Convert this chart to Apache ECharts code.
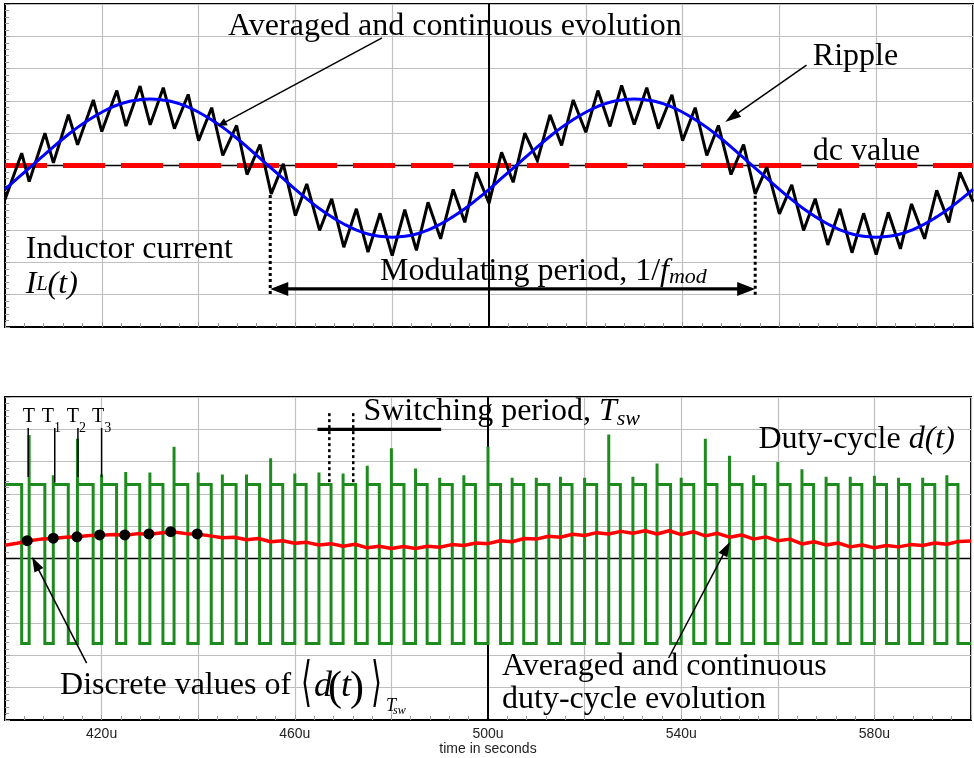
<!DOCTYPE html>
<html><head><meta charset="utf-8">
<script src="https://cdn.jsdelivr.net/npm/echarts@6/dist/echarts.min.js"></script>
<style>html,body{margin:0;padding:0;background:#fff}#c{width:974px;height:758px}</style>
</head><body><div id="c"></div>
<script>
const SERIF = '"Liberation Serif", "Times New Roman", serif';
const SANS = '"Liberation Sans", Arial, sans-serif';
const BRACKET = '"DejaVu Serif", "DejaVu Sans", serif';

// ---- x axis (time, microseconds) ----
const xTickLabels = ['420u', '460u', '500u', '540u', '580u'];
const periodEnd = 600;

// ---- switching instants (rising edges of the PWM) ----
const switchOn = [400,405,410,415,420,425,430,435,440,445,450,455,460,465,470,475,480,485,490,495,
                  500,505,510,515,520,525,530,535,540,545,550,555,560,565,570,575,580,585,590,595];
const dutyRatio = [0.69,0.65,0.62,0.65,0.62,0.58,0.54,0.57,0.54,0.57,0.54,0.50,0.47,
                   0.50,0.52,0.50,0.52,0.48,0.52,0.48,0.52,0.48,0.52,0.48,0.50,0.48,
                   0.52,0.56,0.52,0.48,0.52,0.48,0.51,0.48,0.50,0.48,0.50,0.46,0.50,0.46];
const spikeTop = [null,3.82,2.58,3.71,2.60,2.68,2.66,3.46,2.66,2.60,2.60,3.10,2.63,2.66,
                  2.63,2.87,3.41,2.79,2.50,2.58,3.46,2.50,2.50,2.53,2.50,3.84,2.53,
                  2.94,2.50,3.71,3.18,2.58,2.99,2.76,2.53,2.53,2.56,2.50,2.50,2.58];
const pwmHigh = 2.29, pwmLow = -2.63;

// ---- inductor current ripple vertices ----
const rippleTrough = [-1.05,-0.50,0.08,0.64,1.05,1.22,1.26,1.14,0.77,0.31,-0.28,-0.88,-1.55,-2.01,-2.53,-2.68,-2.79,-2.63,-2.27,-1.76,
                      -1.17,-0.52,0.15,0.62,1.03,1.21,1.27,1.14,0.77,0.31,-0.28,-0.88,-1.50,-2.01,-2.46,-2.70,-2.76,-2.58,-2.27,-1.76,-1.12];
const ripplePeak = [0.38,1.00,1.57,2.03,2.32,2.46,2.41,2.20,1.79,1.24,0.65,0.05,-0.57,-1.03,-1.34,-1.48,-1.37,-1.14,-0.74,-0.21,
                    0.41,1.00,1.57,2.03,2.32,2.48,2.41,2.19,1.79,1.24,0.65,-0.05,-0.60,-1.03,-1.34,-1.48,-1.45,-1.19,-0.77,-0.21];

// ---- averaged curves, sampled every 2.5u ----
const sampleTimes = [400,402.5,405,407.5,410,412.5,415,417.5,420,422.5,425,427.5,430,432.5,435,437.5,440,442.5,445,447.5,
  450,452.5,455,457.5,460,462.5,465,467.5,470,472.5,475,477.5,480,482.5,485,487.5,490,492.5,495,497.5,
  500,502.5,505,507.5,510,512.5,515,517.5,520,522.5,525,527.5,530,532.5,535,537.5,540,542.5,545,547.5,
  550,552.5,555,557.5,560,562.5,565,567.5,570,572.5,575,577.5,580,582.5,585,587.5,590,592.5,595,597.5,600];
const currentAvg = [-0.74,-0.41,-0.08,0.25,0.58,0.89,1.18,1.43,1.65,1.83,1.96,2.03,2.06,2.03,1.96,1.83,1.65,1.43,1.18,0.89,
  0.58,0.25,-0.08,-0.41,-0.74,-1.05,-1.34,-1.59,-1.81,-1.99,-2.12,-2.19,-2.22,-2.19,-2.12,-1.99,-1.81,-1.59,-1.34,-1.05,
  -0.74,-0.41,-0.08,0.25,0.58,0.89,1.18,1.43,1.65,1.83,1.96,2.03,2.06,2.03,1.96,1.83,1.65,1.43,1.18,0.89,
  0.58,0.25,-0.08,-0.41,-0.74,-1.05,-1.34,-1.59,-1.81,-1.99,-2.12,-2.19,-2.22,-2.19,-2.12,-1.99,-1.81,-1.59,-1.34,-1.05,-0.74];
const dutyAvg = [0.41,0.47,0.55,0.60,0.62,0.66,0.67,0.71,0.72,0.74,0.72,0.77,0.75,0.80,0.82,0.77,0.75,0.70,0.64,0.66,
  0.58,0.62,0.52,0.55,0.47,0.50,0.42,0.46,0.38,0.44,0.33,0.38,0.31,0.37,0.31,0.38,0.35,0.43,0.40,0.48,
  0.46,0.55,0.52,0.62,0.60,0.69,0.66,0.75,0.71,0.80,0.76,0.84,0.78,0.86,0.76,0.86,0.74,0.83,0.70,0.78,
  0.66,0.73,0.60,0.67,0.55,0.60,0.45,0.52,0.42,0.48,0.36,0.42,0.33,0.40,0.36,0.43,0.40,0.48,0.44,0.53,0.54];

// ---- discrete averaged duty values ----
const discreteT = [404.6,410.0,414.9,419.6,424.8,429.8,434.3,439.8];
const discreteV = [0.55,0.63,0.67,0.73,0.73,0.76,0.83,0.76];

// ---- dc value / reference axes ----
const dcTimes = [400, 600];
const dcLevel = [0, 0];
const centerT = 500, centerV = 0;

// ---------- build series data ----------
const rippleData = [], pwmData = [];
for (let k = 0; k < switchOn.length; k++) {
  const r = switchOn[k];
  const next = k + 1 < switchOn.length ? switchOn[k + 1] : periodEnd;
  const f = r + dutyRatio[k] * (next - r);
  rippleData.push([r, rippleTrough[k]], [f, ripplePeak[k]]);
  if (spikeTop[k] == null) pwmData.push([r, pwmHigh]);
  else pwmData.push([r, pwmLow], [r, spikeTop[k]], [r, pwmHigh]);
  pwmData.push([f, pwmHigh], [f, pwmLow]);
}
rippleData.push([periodEnd, rippleTrough[switchOn.length]]);
pwmData.push([periodEnd, pwmLow]);
const zip = (a, b) => a.map((v, i) => [v, b[i]]);

const chart = echarts.init(document.getElementById('c'), null, {renderer: 'canvas'});
const gridStyle = {show: true, borderColor: '#000', borderWidth: 2, left: 5, right: 1, height: 323};
const gridLine = {show: true, lineStyle: {color: '#bfbfbf', width: 1.2}};
function xAx(i) {
  return {
    type: 'value', gridIndex: i, min: 400, max: 600, interval: 20,
    axisLine: {show: true, onZero: false, lineStyle: {color: '#000', width: 2}},
    axisTick: {show: true, inside: true, length: 5, lineStyle: {color: '#999'}},
    minorTick: {show: true, splitNumber: 5, length: 4, lineStyle: {color: '#999'}},
    splitLine: gridLine,
    axisLabel: i === 1 ? {
      show: true, margin: 7, color: '#222', fontSize: 14, fontFamily: SANS,
      formatter: v => (xTickLabels.indexOf(v + 'u') >= 0 ? v + 'u' : '')
    } : {show: false},
    name: i === 1 ? 'time in seconds' : '', nameLocation: 'middle', nameGap: 22,
    nameTextStyle: {color: '#222', fontSize: 14, fontFamily: SANS}
  };
}
function yAx(i) {
  return {
    type: 'value', gridIndex: i, min: -5, max: 5, interval: 1,
    axisLine: {show: true, onZero: false, lineStyle: {color: '#000', width: 2}},
    axisTick: {show: true, inside: true, length: 5, lineStyle: {color: '#999'}},
    minorTick: {show: true, splitNumber: 5, length: 4, lineStyle: {color: '#999'}},
    splitLine: gridLine, axisLabel: {show: false}
  };
}
function refLines(i) {
  return [
    {type: 'line', xAxisIndex: i, yAxisIndex: i, data: [[400, centerV], [600, centerV]], symbol: 'none', silent: true, z: 1,
     lineStyle: {color: '#000', width: 1.5}},
    {type: 'line', xAxisIndex: i, yAxisIndex: i, data: [[centerT, -5], [centerT, 5]], symbol: 'none', silent: true, z: 1,
     lineStyle: {color: '#000', width: 2}}
  ];
}
chart.setOption({
  animation: false,
  backgroundColor: '#fff',
  grid: [Object.assign({top: 4}, gridStyle), Object.assign({top: 397}, gridStyle)],
  xAxis: [xAx(0), xAx(1)],
  yAxis: [yAx(0), yAx(1)],
  series: [
    ...refLines(0), ...refLines(1),
    {name: 'dc value', type: 'line', xAxisIndex: 0, yAxisIndex: 0, data: zip(dcTimes, dcLevel), symbol: 'none', z: 2,
     lineStyle: {color: '#ff0000', width: 5, type: [42, 16]}},
    {name: 'Ripple', type: 'line', xAxisIndex: 0, yAxisIndex: 0, data: rippleData, symbol: 'none', z: 3,
     lineStyle: {color: '#000', width: 3, join: 'miter', miterLimit: 3}},
    {name: 'Averaged', type: 'line', xAxisIndex: 0, yAxisIndex: 0, data: zip(sampleTimes, currentAvg), symbol: 'none', smooth: true, z: 4,
     lineStyle: {color: '#0000ff', width: 3}},
    {name: 'Duty-cycle', type: 'line', xAxisIndex: 1, yAxisIndex: 1, data: pwmData, symbol: 'none', z: 3,
     lineStyle: {color: '#1e8b1e', width: 3, join: 'miter', miterLimit: 2}},
    {name: 'Averaged duty', type: 'line', xAxisIndex: 1, yAxisIndex: 1, data: zip(sampleTimes, dutyAvg), symbol: 'none', z: 4,
     lineStyle: {color: '#ff0000', width: 3.5}},
    {name: 'Discrete', type: 'scatter', xAxisIndex: 1, yAxisIndex: 1, data: zip(discreteT, discreteV), symbolSize: 11, z: 5,
     itemStyle: {color: '#000', opacity: 1}}
  ]
});

// ---------- annotations (anchored in data coordinates: left baseline) ----------
const notes = [
  {g: 0, t: 446.1, v: 4.04, parts: [{s: 'Averaged and continuous evolution'}]},
  {g: 0, t: 566.9, v: 3.11, parts: [{s: 'Ripple'}]},
  {g: 0, t: 566.9, v: 0.17, parts: [{s: 'dc value'}]},
  {g: 0, t: 404.3, v: -2.86, parts: [{s: 'Inductor current'}]},
  {g: 0, t: 404.3, v: -3.95, parts: [{s: 'I', it: 1}, {s: 'L', it: 1, size: 20, dy: -3}, {s: '(t)', it: 1}]},
  {g: 0, t: 477.5, v: -3.54, parts: [{s: 'Modulating period, 1/'}, {s: 'f', it: 1}, {s: 'mod', it: 1, size: 22, dy: 3}]},
  {g: 1, t: 403.7, v: 4.235, parts: [{s: 'T', size: 20}]},
  {g: 1, t: 407.6, v: 4.235, parts: [{s: 'T', size: 20}, {s: '1', size: 14, dy: 10}]},
  {g: 1, t: 412.8, v: 4.235, parts: [{s: 'T', size: 20}, {s: '2', size: 14, dy: 10}]},
  {g: 1, t: 418.0, v: 4.235, parts: [{s: 'T', size: 20}, {s: '3', size: 14, dy: 10}]},
  {g: 1, t: 474.2, v: 4.29, parts: [{s: 'Switching period, '}, {s: 'T', it: 1}, {s: 'sw', it: 1, size: 22, dy: 5}]},
  {g: 1, t: 556.0, v: 3.41, parts: [{s: 'Duty-cycle '}, {s: 'd(t)', it: 1}]},
  {g: 1, t: 411.4, v: -4.18, parts: [
    {s: 'Discrete values of '},
    {s: '\u27E8', fam: BRACKET, size: 40, dx: 241, dy: 3, sx: 0.7, sy: 1.35},
    {s: 'd', it: 1, size: 36, dx: 254, dy: 2},
    {s: '(', size: 42, dx: 268, dy: 6},
    {s: 't', it: 1, size: 36, dx: 281, dy: 2},
    {s: ')', size: 42, dx: 290, dy: 6},
    {s: '\u27E9', fam: BRACKET, size: 40, dx: 311, dy: 3, sx: 0.7, sy: 1.35},
    {s: 'T', it: 1, size: 18, dx: 326, dy: 17},
    {s: 'sw', it: 1, size: 12, dx: 333, dy: 20}]},
  {g: 1, t: 502.9, v: -3.61, parts: [{s: 'Averaged and continuous'}]},
  {g: 1, t: 502.9, v: -4.63, parts: [{s: 'duty-cycle evolution'}]}
];
const marks = [
  {g: 0, from: [477.9, 3.95], to: [444.0, 1.22], w: 1.5, head: [9, 4]},
  {g: 0, from: [565.6, 3.11], to: [548.8, 1.35], w: 1.5, head: [16, 5]},
  {g: 0, from: [454.8, -3.82], to: [555.0, -3.82], w: 3.3, head: [18, 7], both: true},
  {g: 0, from: [454.8, -0.91], to: [454.8, -4.07], w: 3, dash: [3, 3]},
  {g: 0, from: [555.0, -0.94], to: [555.0, -4.07], w: 3, dash: [3, 3]},
  {g: 1, from: [404.8, 4.04], to: [404.8, 2.52], w: 1.5},
  {g: 1, from: [410.3, 4.04], to: [410.3, 2.35], w: 1.5},
  {g: 1, from: [415.1, 4.04], to: [415.1, 2.52], w: 1.5},
  {g: 1, from: [420.0, 4.04], to: [420.0, 2.52], w: 1.5},
  {g: 1, from: [464.7, 4.0], to: [490.3, 4.0], w: 3.3},
  {g: 1, from: [467.15, 4.5], to: [467.15, 2.28], w: 2.5, dash: [3, 3]},
  {g: 1, from: [472.1, 4.5], to: [472.1, 2.28], w: 2.5, dash: [3, 3]},
  {g: 1, from: [416.9, -3.24], to: [405.6, 0.05], w: 1.5, head: [15, 5]},
  {g: 1, from: [537.4, -3.08], to: [550.1, 0.52], w: 1.5, head: [15, 5]}
];

function buildGraphics() {
  const els = [];
  const mctx = document.createElement('canvas').getContext('2d');
  const fontOf = p => (p.it ? 'italic ' : '') + (p.size || 32) + 'px ' + (p.fam || SERIF);
  const toPx = (g, pt) => chart.convertToPixel({gridIndex: g}, pt);
  marks.forEach(m => {
    const a = toPx(m.g, m.from), b = toPx(m.g, m.to);
    const dx = b[0] - a[0], dy = b[1] - a[1], len = Math.hypot(dx, dy);
    const ux = dx / len, uy = dy / len;
    let x1 = a[0], y1 = a[1], x2 = b[0], y2 = b[1];
    const head = (tip, sx, sy) => {
      const [L, W] = m.head;
      const bx = tip[0] - sx * L, by = tip[1] - sy * L;
      els.push({type: 'polygon', silent: true, z: 90,
        shape: {points: [[tip[0], tip[1]], [bx - sy * W, by + sx * W], [bx + sy * W, by - sx * W]]},
        style: {fill: '#000'}});
    };
    if (m.head) {
      head(b, ux, uy); x2 -= ux * m.head[0] * 0.8; y2 -= uy * m.head[0] * 0.8;
      if (m.both) { head(a, -ux, -uy); x1 += ux * m.head[0] * 0.8; y1 += uy * m.head[0] * 0.8; }
    }
    els.push({type: 'line', silent: true, z: 90, shape: {x1, y1, x2, y2},
      style: {stroke: '#000', lineWidth: m.w, lineDash: m.dash || null}});
  });
  notes.forEach(n => {
    const [ax, ay] = toPx(n.g, [n.t, n.v]);
    let cx = ax;
    n.parts.forEach(p => {
      const font = fontOf(p);
      mctx.font = font; mctx.textBaseline = 'middle';
      const w = mctx.measureText(p.s).width;
      const off = mctx.measureText('H').actualBoundingBoxDescent;
      const x = p.dx != null ? ax + p.dx : cx;
      const y = ay + (p.dy || 0) - off;
      const el = {type: 'text', x, y, silent: true, z: 100,
        style: {text: p.s, font, fill: '#000', textAlign: 'left', textVerticalAlign: 'middle', verticalAlign: 'middle'}};
      if (p.sx || p.sy) { el.scaleX = p.sx || 1; el.scaleY = p.sy || 1; el.originX = 0; el.originY = 0; }
      els.push(el);
      cx = x + w * (p.sx || 1);
    });
  });
  return els;
}
chart.setOption({graphic: {elements: buildGraphics()}});
</script></body></html>
